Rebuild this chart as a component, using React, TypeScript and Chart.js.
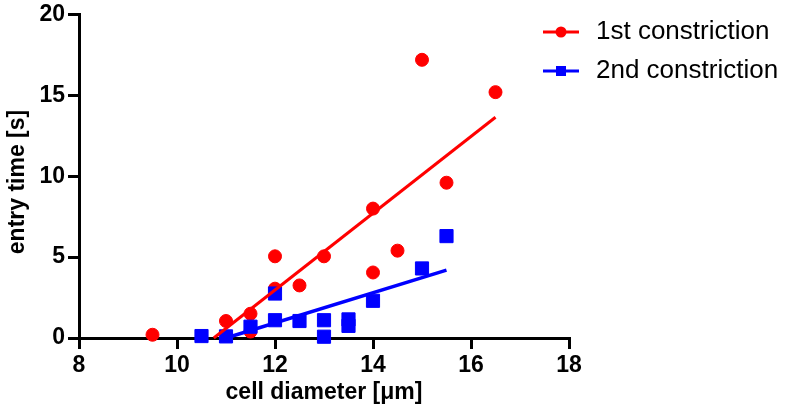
import React, { useEffect, useRef } from "react";
import { Chart, registerables } from "chart.js";

Chart.register(...registerables);

const FONT = "'Liberation Sans', Arial, Helvetica, sans-serif";

// 1st constriction (red circles)
const firstX = [9.5, 11, 11.5, 11.5, 12, 12, 12.5, 13, 14, 14, 14.5, 15, 15.5, 16.5];
const firstY = [0.2, 1.05, 1.5, 0.4, 5.05, 3.05, 3.25, 5.05, 8.0, 4.05, 5.4, 17.2, 9.6, 15.2];

// 2nd constriction (blue squares)
const secondX = [10.5, 11, 11.5, 12, 12, 12.5, 13, 13, 13.5, 13.5, 14, 15, 15.5];
const secondY = [0.12, 0.1, 0.7, 2.75, 1.1, 1.05, 1.1, 0.08, 1.15, 0.75, 2.3, 4.3, 6.3];

// linear fits
const firstFitX = [10.75, 16.5];
const firstFitY = [0, 13.65];
const secondFitX = [11.0, 15.5];
const secondFitY = [0, 4.2];

const xTicks = [8, 10, 12, 14, 16, 18];
const yTicks = [0, 5, 10, 15, 20];
const seriesLabels = ["1st constriction", "2nd constriction"];
const xTitle = "cell diameter [\u03BCm]";
const yTitle = "entry time [s]";

const RED = "#FF0000";
const BLUE = "#0000FF";

const toPoints = (xs: number[], ys: number[]) => xs.map((x, i) => ({ x, y: ys[i] }));

const overlayPlugin = {
  id: "overlay",
  afterDraw(chart: any) {
    const ctx = chart.ctx as CanvasRenderingContext2D;
    ctx.save();
    // y axis title
    ctx.translate(18, 182);
    ctx.rotate(-Math.PI / 2);
    ctx.font = `bold 23px ${FONT}`;
    ctx.fillStyle = "#000";
    ctx.textAlign = "center";
    ctx.textBaseline = "middle";
    ctx.fillText(yTitle, 0, 0);
    ctx.restore();

    // legend
    const rows = [
      { y: 32, color: RED, style: "circle" },
      { y: 71, color: BLUE, style: "rect" },
    ];
    rows.forEach((r, i) => {
      ctx.save();
      ctx.strokeStyle = r.color;
      ctx.lineWidth = 3;
      ctx.beginPath();
      ctx.moveTo(543, r.y);
      ctx.lineTo(579, r.y);
      ctx.stroke();
      ctx.fillStyle = r.color;
      if (r.style === "circle") {
        ctx.beginPath();
        ctx.arc(561, r.y, 5.5, 0, Math.PI * 2);
        ctx.fill();
      } else {
        ctx.fillRect(556, r.y - 5, 10, 10);
      }
      ctx.fillStyle = "#000";
      ctx.font = `26px ${FONT}`;
      ctx.textAlign = "left";
      ctx.textBaseline = "middle";
      ctx.fillText(seriesLabels[i], 596, r.y);
      ctx.restore();
    });
  },
};

export default function App() {
  const ref = useRef<HTMLCanvasElement | null>(null);

  useEffect(() => {
    if (!ref.current) return;
    const tickFont = { family: FONT, size: 23, weight: "bold" as const, lineHeight: 1 };
    const chart = new Chart(ref.current, {
      type: "scatter",
      data: {
        datasets: [
          {
            type: "line",
            label: "fit2",
            data: toPoints(secondFitX, secondFitY),
            borderColor: BLUE,
            borderWidth: 3.5,
            pointRadius: 0,
            showLine: true,
            fill: false,
            order: 1,
            clip: false as any,
          },
          {
            type: "line",
            label: "fit1",
            data: toPoints(firstFitX, firstFitY),
            borderColor: RED,
            borderWidth: 3,
            pointRadius: 0,
            showLine: true,
            fill: false,
            order: 2,
            clip: false as any,
          },
          {
            label: seriesLabels[1],
            data: toPoints(secondX, secondY),
            pointStyle: "rect",
            pointRadius: 9.3,
            backgroundColor: BLUE,
            borderColor: BLUE,
            borderWidth: 1,
            order: 3,
            clip: false as any,
          },
          {
            label: seriesLabels[0],
            data: toPoints(firstX, firstY),
            pointStyle: "circle",
            pointRadius: 6.5,
            backgroundColor: RED,
            borderColor: RED,
            borderWidth: 1,
            order: 4,
            clip: false as any,
          },
        ],
      },
      options: {
        responsive: false,
        animation: false,
        events: [],
        layout: { padding: { left: 0, top: 11, right: 219, bottom: 0 } },
        plugins: {
          legend: { display: false },
          tooltip: { enabled: false },
          title: { display: false },
        },
        scales: {
          x: {
            type: "linear",
            min: 8,
            max: 18,
            afterBuildTicks: (s: any) => {
              s.ticks = xTicks.map((v) => ({ value: v }));
            },
            afterFit: (s: any) => {
              s.height = 82;
            },
            ticks: { color: "#000", font: tickFont, padding: 5, maxRotation: 0 },
            grid: {
              drawOnChartArea: false,
              drawTicks: true,
              tickLength: 11,
              lineWidth: 3,
              color: "#000",
            },
            border: { display: true, width: 3, color: "#000" },
            title: {
              display: true,
              text: xTitle,
              color: "#000",
              font: { family: FONT, size: 23, weight: "bold" },
              padding: { top: 0, bottom: 14 },
            },
          },
          y: {
            type: "linear",
            min: 0,
            max: 20,
            afterBuildTicks: (s: any) => {
              s.ticks = yTicks.map((v) => ({ value: v }));
            },
            afterFit: (s: any) => {
              s.width = 79;
            },
            ticks: { color: "#000", font: tickFont, padding: 3 },
            grid: {
              drawOnChartArea: false,
              drawTicks: true,
              tickLength: 11,
              lineWidth: 3,
              color: "#000",
            },
            border: { display: true, width: 3, color: "#000" },
          },
        },
      },
      plugins: [overlayPlugin],
    } as any);
    return () => chart.destroy();
  }, []);

  return (
    <div style={{ position: "absolute", left: 0, top: 0, width: 788, height: 420, background: "#fff" }}>
      <canvas ref={ref} width={788} height={420} style={{ display: "block" }} />
    </div>
  );
}
